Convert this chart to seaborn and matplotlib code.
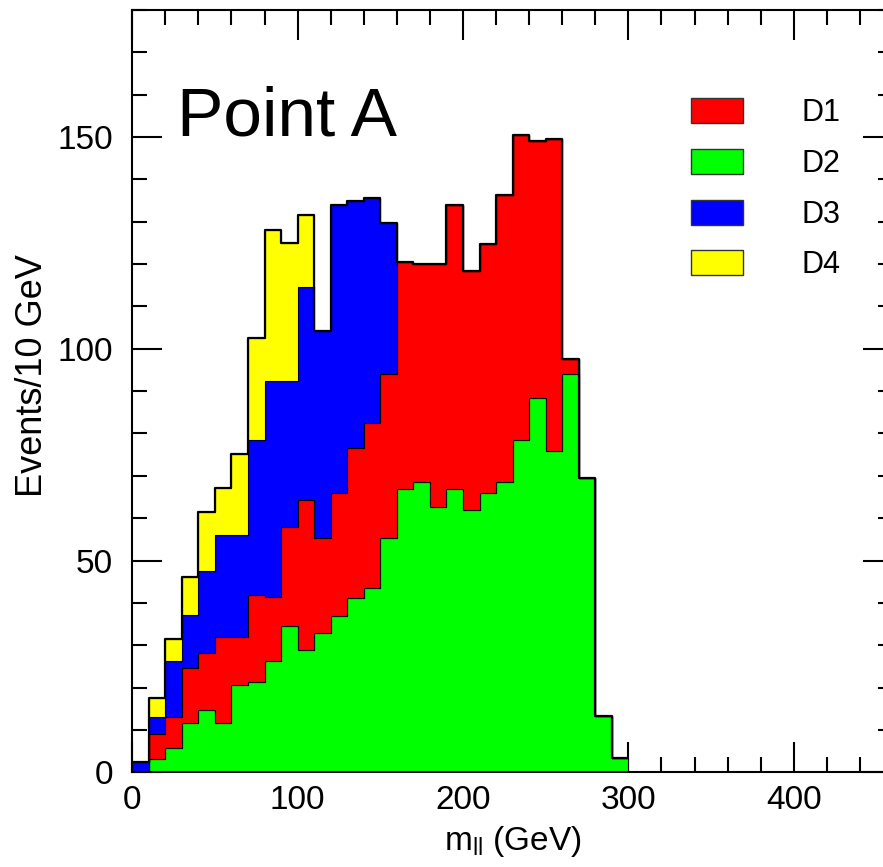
import numpy as np
import pandas as pd
import matplotlib
matplotlib.use("Agg")
import matplotlib.pyplot as plt
from matplotlib.patches import Patch
from matplotlib.ticker import MultipleLocator
import seaborn as sns

# ------------------------------------------------------------------
# Data: m_ll distribution, 10 GeV bins, four decay chains (stacked)
# ------------------------------------------------------------------
bin_edges = np.arange(0, 310, 10)
bin_centres = bin_edges[:-1] + 5

d1 = [0, 5.9, 7.4, 13.0, 13.4, 20.4, 11.4, 20.6, 15.1, 23.3,
      35.4, 22.3, 28.9, 35.4, 38.8, 38.8, 53.7, 51.5, 57.3, 67.0,
      56.4, 58.9, 67.9, 71.9, 60.7, 73.6, 3.5, 0, 0, 0]
d2 = [0, 3.1, 5.7, 11.6, 14.7, 11.6, 20.6, 21.3, 26.4, 34.6,
      28.9, 33.0, 37.0, 41.1, 43.6, 55.3, 66.9, 68.5, 62.7, 66.9,
      61.9, 65.9, 68.5, 78.5, 88.3, 75.9, 94.1, 69.6, 13.3, 3.5]
d3 = [2.5, 4.1, 13.3, 12.6, 19.5, 24.1, 24.1, 36.6, 50.9, 34.5,
      50.4, 49.0, 68.1, 58.3, 53.2, 35.7, 0, 0, 0, 0,
      0, 0, 0, 0, 0, 0, 0, 0, 0, 0]
d4 = [0, 4.4, 5.0, 9.0, 13.8, 11.0, 19.1, 24.0, 35.7, 32.6,
      16.8, 0, 0, 0, 0, 0, 0, 0, 0, 0,
      0, 0, 0, 0, 0, 0, 0, 0, 0, 0]

samples = {"D1": d1, "D2": d2, "D3": d3, "D4": d4}
colours = {"D1": "#ff0000", "D2": "#00ff00", "D3": "#0000ff", "D4": "#ffff00"}

df = pd.concat(
    [pd.DataFrame({"mll": bin_centres, "events": vals, "sample": name})
     for name, vals in samples.items()],
    ignore_index=True,
)
total = df.groupby("mll", as_index=False)["events"].sum()

n_bins = len(bin_centres)
hist_range = (bin_edges[0], bin_edges[-1])

# ------------------------------------------------------------------
# Plot
# ------------------------------------------------------------------
sns.set_style("ticks")
plt.rcParams["font.family"] = ["Liberation Sans", "DejaVu Sans"]
plt.rcParams["mathtext.fontset"] = "custom"
plt.rcParams["mathtext.rm"] = "Liberation Sans"
plt.rcParams["mathtext.it"] = "Liberation Sans"
for key in ["text.color", "axes.labelcolor", "xtick.color", "ytick.color",
            "xtick.labelcolor", "ytick.labelcolor"]:
    plt.rcParams[key] = "black"

fig = plt.figure(figsize=(8.83, 8.67), dpi=100)
ax = fig.add_axes([0.1498, 0.1092, 0.8615, 0.8793])

# seaborn stacks the last hue level at the bottom
sns.histplot(data=df, x="mll", weights="events", hue="sample",
             hue_order=["D4", "D3", "D1", "D2"], bins=n_bins, binrange=hist_range,
             multiple="stack", element="step", palette=colours,
             edgecolor="black", linewidth=0.8, alpha=1, legend=False, ax=ax)

# outer envelope of the stack
sns.histplot(data=total, x="mll", weights="events", bins=n_bins, binrange=hist_range,
             element="step", fill=False, color="black", linewidth=1.6, ax=ax)

ax.set_xlim(0, 460)
ax.set_ylim(0, 180)

ax.xaxis.set_major_locator(MultipleLocator(100))
ax.xaxis.set_minor_locator(MultipleLocator(20))
ax.yaxis.set_major_locator(MultipleLocator(50))
ax.yaxis.set_minor_locator(MultipleLocator(10))
ax.tick_params(which="both", direction="in", top=True, right=True,
               width=1.5, color="black", labelcolor="black")
ax.tick_params(which="major", length=21.6, labelsize=24)
ax.tick_params(axis="x", which="major", pad=9)
ax.tick_params(axis="y", which="major", pad=14)
ax.tick_params(which="minor", length=10.8)
for sp in ax.spines.values():
    sp.set_linewidth(1.5)
    sp.set_color("black")

ax.set_xlabel(r"m$_{\rm ll}$ (GeV)", fontsize=24, color="black")
ax.set_ylabel("Events/10 GeV", fontsize=26, color="black")
ax.xaxis.set_label_coords(0.5, -0.068)
ax.yaxis.set_label_coords(-0.108, 0.52)

ax.text(0.0587, 0.8347, "Point A", transform=ax.transAxes,
        fontsize=50, va="baseline", ha="left", color="black")

handles = [Patch(facecolor=colours[n], edgecolor="#333333", linewidth=1, label=n)
           for n in ["D1", "D2", "D3", "D4"]]
ax.legend(handles=handles, loc="upper left", bbox_to_anchor=(0.7826, 0.8870),
          bbox_transform=fig.transFigure, frameon=False, fontsize=22,
          handlelength=1.7, handleheight=0.88, handletextpad=1.9,
          labelspacing=0.68, borderpad=0, borderaxespad=0, labelcolor="black")

fig.savefig("out.png", dpi=100)
